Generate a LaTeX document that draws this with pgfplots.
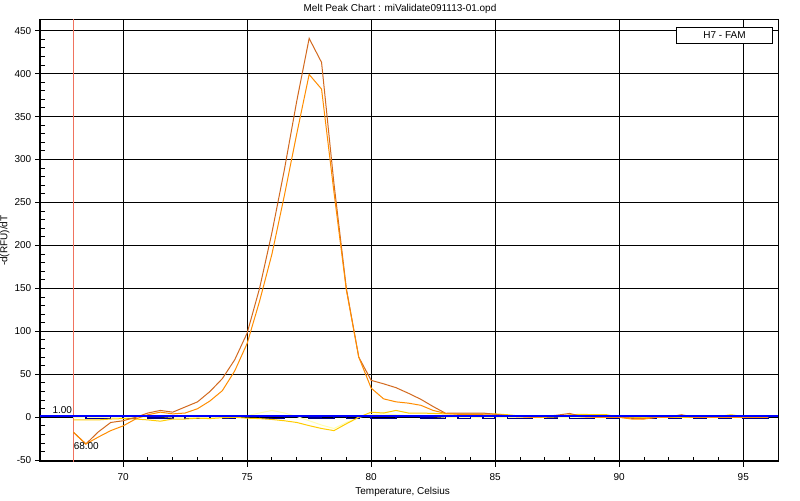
\documentclass[border=0pt]{standalone}
\usepackage{fontspec}
\setmainfont{Liberation Sans}
\usepackage{pgfplots}
\pgfplotsset{compat=1.18}
\usepackage{pgfplotstable}

\definecolor{cdark}{RGB}{210,105,30}
\definecolor{corange}{RGB}{255,140,0}
\definecolor{cgold}{RGB}{255,204,0}
\definecolor{cnavy}{RGB}{0,0,128}
\definecolor{clight}{RGB}{255,255,180}
\definecolor{cvline}{RGB}{240,115,95}

\pgfplotstableread{
x    c1     c2     c3     c4    c5
68.0 -17.5  -17.5  -3     1     0
68.5 -31    -31    -3    -1.2   0
69.0 -17    -23    -3    -1.2   0
69.5 -6     -15.5  -2     1     0
70.0 -4     -10    -1.5  -1.2   0
70.5  0     -2     -2     1     0
71.0  5      3     -3    -1     0
71.5  8      6     -4.5  -1.2   1
72.0  6      4     -2     1     0
72.5  12     5     -2    -1.2   0
73.0  18     10    -1    -1.2   0
73.5  30     19    -1.5   1     0
74.0  45     31    -0.5  -1.2   0
74.5  67     54     0     1     1
75.0  98     86    -1     1     2
75.5  150    135   -1.5  -1.2   5
76.0  215    190   -2.5  -1.2   8
76.5  288    258   -4     1     5
77.0  368    330   -6     1     1
77.5  441    399   -9.7  -1    -4
78.0  413    382   -13   -1.2  -9
78.5  272    262   -15.5  1    -13
79.0  150    148   -7.5  -1.2  -6
79.5  70     70     0     1     0
80.0  43     34     6    -1.2   3
80.5  39     21.5   5    -1.2   4
81.0  34.5   18     8     1     3
81.5  28     16.5   5     1     2
82.0  21     14     5    -1     2
82.5  12.5   8      4.5  -1.2   1
83.0  4.7    4.5    4     1     0
83.5  5      3.5    4    -1.2   0
84.0  5      3      4     1     0
84.5  5      3      4    -1.2   0
85.0  3.5    2.5    4     1     0
85.5  2      1      3    -1.2   0
86.0  1      0.5    1.5  -1.2   0
86.5  0.5    0      0     1     0
87.0  1      0.5    0    -1     0
87.5  2.5    1      0.5   1     0
88.0  4.5    2      3    -1.2   0
88.5  1      0.5    3.5  -1.2   0
89.0  0.5    0      3     1     0
89.5  0.5    0      3    -1     0
90.0  0      0      0     1     0
90.5 -1     -2     -0.5  -1.2   0
91.0 -1.5   -2      0    -1.2   0
91.5  0      0      0     1     0
92.0  0.5    0      0    -1.2   0
92.5  3      1      0     1     0
93.0  0.5    0      0    -1.2   0
93.5  0      0      0.5   1     0
94.0  0.5    0      1    -1.2   0
94.5  0      0      3     1     0
95.0  0      0      1    -1.2   0
95.5  0      0      0    -1.2   0
96.0  0      0      0     1     0
}\meltdata

\begin{document}
\begin{tikzpicture}
\path[use as bounding box] (0pt,0pt) rectangle (600pt,375pt);
\begin{axis}[
  at={(30pt,28.5pt)}, anchor=south west,
  scale only axis, width=553.5pt, height=331.9pt,
  xmin=66.65, xmax=96.4, ymin=-52, ymax=463,
  xtick={70,75,...,95}, ytick={-50,0,...,450},
  minor x tick num=4, minor y tick num=4,
  xtick pos=bottom, ytick pos=left,
  grid=major,
  major grid style={black, line width=0.75pt},
  axis line style={black, line width=0.75pt},
  every tick/.style={black, line width=0.75pt},
  tick align=inside,
  major tick length=-3.75pt, minor tick length=3.75pt,
  /pgf/number format/assume math mode=true,
  ticklabel style={font=\fontsize{7.5}{9}\selectfont},
  yticklabel style={xshift=-3pt},
  xticklabel style={yshift=-5pt},
  clip=true,
]
\addplot[cvline, line width=0.75pt] coordinates {(68,-52) (68,463)};
\addplot[clight, line width=0.75pt] table[x=x, y=c5] {\meltdata};
\addplot[cnavy, line width=1.2pt, const plot] table[x=x, y=c4] {\meltdata};
\addplot[cgold, line width=0.75pt] table[x=x, y=c3] {\meltdata};
\addplot[cdark, line width=0.75pt] table[x=x, y=c1] {\meltdata};
\addplot[corange, line width=0.75pt] table[x=x, y=c2] {\meltdata};
\addplot[blue, line width=1.5pt] coordinates {(66.65,1) (96.4,1)};
\node[anchor=base east, inner sep=0pt, font=\fontsize{7.5}{9}\selectfont] at (axis cs:67.95,4.7) {1.00};
\node[anchor=base west, inner sep=0pt, font=\fontsize{7.5}{9}\selectfont] at (axis cs:68.0,-37) {68.00};
\node[draw=black, line width=0.75pt, fill=white, anchor=north east, minimum width=72pt, minimum height=12pt, inner sep=0pt, font=\fontsize{7.5}{9}\selectfont] at (rel axis cs:0.9932,0.9831) {H7 - FAM};
\end{axis}
\node[font=\fontsize{7.5}{9}\selectfont] at (300pt,368.25pt) {Melt Peak Chart : miValidate091113-01.opd};
\node[font=\fontsize{7.5}{9}\selectfont] at (302pt,6pt) {Temperature, Celsius};
\node[rotate=90, font=\fontsize{7.5}{9}\selectfont] at (3.5pt,194.5pt) {-d(RFU)/dT};
\end{tikzpicture}
\end{document}
